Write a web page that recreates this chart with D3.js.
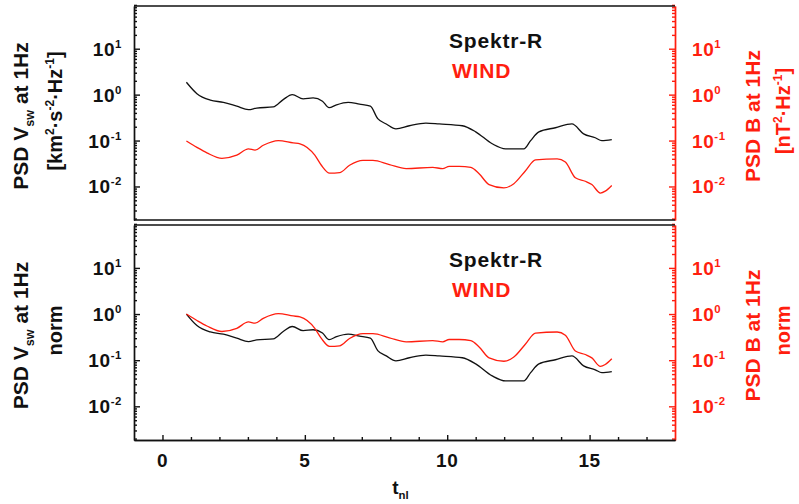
<!DOCTYPE html>
<html>
<head>
<meta charset="utf-8">
<script src="https://cdn.jsdelivr.net/npm/d3@7"></script>
<style>
  body { margin: 0; background: #fff; }
  text { font-family: "Liberation Sans", Arial, sans-serif; font-weight: bold; }
</style>
</head>
<body>
<div id="chart"></div>
<script>
// t_nl values (x) and PSD at 1Hz
var spektrT = [0.84, 1.21, 1.68, 2.14, 2.61, 3.02, 3.31, 3.89, 4.24, 4.56, 4.94, 5.29, 5.62, 5.85, 6.11, 6.52, 6.92, 7.30, 7.56, 7.86, 8.20, 8.67, 9.25, 9.72, 10.53, 11.0, 11.58, 12.05, 12.69, 12.93, 13.22, 13.80, 14.38, 14.79, 15.2, 15.43, 15.78]
var spektrPsd = [1.86, 1.05, 0.76, 0.68, 0.56, 0.47, 0.51, 0.54, 0.78, 1.0, 0.81, 0.85, 0.72, 0.52, 0.60, 0.68, 0.62, 0.56, 0.30, 0.23, 0.18, 0.21, 0.24, 0.23, 0.21, 0.155, 0.085, 0.066, 0.066, 0.10, 0.155, 0.19, 0.23, 0.14, 0.115, 0.10, 0.105]

var windT = [0.84, 1.21, 1.56, 2.09, 2.61, 3.02, 3.25, 3.54, 4.07, 4.59, 4.83, 5.35, 5.58, 5.87, 6.22, 6.57, 7.04, 7.39, 7.97, 8.56, 9.49, 9.84, 10.07, 10.42, 10.83, 11.12, 11.47, 11.99, 12.34, 12.75, 13.1, 13.86, 14.15, 14.5, 14.85, 15.08, 15.38, 15.55, 15.78]
var windPsd = [0.098, 0.071, 0.054, 0.041, 0.048, 0.066, 0.062, 0.079, 0.10, 0.089, 0.085, 0.048, 0.029, 0.0195, 0.020, 0.029, 0.037, 0.037, 0.030, 0.0245, 0.026, 0.0245, 0.0275, 0.0275, 0.026, 0.019, 0.011, 0.0093, 0.0115, 0.022, 0.038, 0.040, 0.034, 0.0155, 0.013, 0.011, 0.0072, 0.0079, 0.0105]

var xMajor = [0, 5, 10, 15]
var xMinor = [1, 2, 3, 4, 6, 7, 8, 9, 11, 12, 13, 14, 16, 17]
var yMajor = [0.01, 0.1, 1, 10]
var yExp = ["-2", "-1", "0", "1"]

var width = 799, height = 504,
    left = 134, right = 675,
    red = "#ff1e0f", ink = "#111"

var svg = d3.select("#chart").append("svg")
    .attr("width", width)
    .attr("height", height)

var x = d3.scaleLinear().domain([-1, 18]).range([left, right])

// minor log ticks 2..9 in every decade
var yMinor = []
d3.range(-3, 2).forEach(function(n) {
  d3.range(2, 10).forEach(function(k) { yMinor.push(k * Math.pow(10, n)) })
})

function rich(t, parts, size) {
  var off = 0
  parts.forEach(function(p) {
    var target = p[1] == "sup" ? -0.42 * size : p[1] == "sub" ? 0.28 * size : 0
    t.append("tspan")
      .attr("dy", target - off)
      .attr("font-size", p[1] == "n" ? size : size * 0.6)
      .text(p[0])
    off = target
  })
}

var panels = [
  {top: 6, bottom: 220, norm: false,
   lt2: [["[km", "n"], ["2", "sup"], ["·s", "n"], ["-2", "sup"], ["·Hz", "n"], ["-1", "sup"], ["]", "n"]],
   rt2: [["[nT", "n"], ["2", "sup"], ["·Hz", "n"], ["-1", "sup"], ["]", "n"]]},
  {top: 225, bottom: 440, norm: true,
   lt2: [["norm", "n"]],
   rt2: [["norm", "n"]]}
]

panels.forEach(function(p) {
  var y = d3.scaleLog()
    .domain([Math.pow(10, -2.73), Math.pow(10, 1.93)])
    .range([p.bottom, p.top])

  var g = svg.append("g")

  var s0 = spektrPsd[0], w0 = windPsd[0]
  var sData = spektrT.map(function(t, i) { return [t, p.norm ? spektrPsd[i] / s0 : spektrPsd[i]] })
  var wData = windT.map(function(t, i) { return [t, p.norm ? windPsd[i] / w0 : windPsd[i]] })

  var line = d3.line()
    .x(function(d) { return x(d[0]) })
    .y(function(d) { return y(d[1]) })
    .curve(d3.curveMonotoneX)

  g.append("path").datum(sData)
    .attr("fill", "none").attr("stroke", ink).attr("stroke-width", 1.3)
    .attr("d", line)
  g.append("path").datum(wData)
    .attr("fill", "none").attr("stroke", red).attr("stroke-width", 1.3)
    .attr("d", line)

  // left axis, ticks inward
  var la = g.append("g").attr("transform", "translate(" + left + ",0)")
  la.call(d3.axisRight(y).tickValues(yMinor).tickSize(3).tickSizeOuter(0).tickFormat(""))
  la.append("g").call(d3.axisRight(y).tickValues(yMajor).tickSize(6).tickSizeOuter(0).tickFormat(""))
  la.selectAll("path,line").attr("stroke", ink).attr("stroke-width", 1.4)

  // right axis, red
  var ra = g.append("g").attr("transform", "translate(" + right + ",0)")
  ra.call(d3.axisLeft(y).tickValues(yMinor).tickSize(3).tickSizeOuter(0).tickFormat(""))
  ra.append("g").call(d3.axisLeft(y).tickValues(yMajor).tickSize(6).tickSizeOuter(0).tickFormat(""))
  ra.selectAll("path,line").attr("stroke", red).attr("stroke-width", 1.4)

  // top border
  g.append("line")
    .attr("x1", left).attr("x2", right)
    .attr("y1", p.top).attr("y2", p.top)
    .attr("stroke", ink).attr("stroke-width", 1.5)

  if (p.norm) {
    var ba = g.append("g").attr("transform", "translate(0," + p.bottom + ")")
    ba.call(d3.axisTop(x).tickValues(xMinor).tickSize(3).tickSizeOuter(0).tickFormat(""))
    ba.append("g").call(d3.axisTop(x).tickValues(xMajor).tickSize(5).tickSizeOuter(0).tickFormat(""))
    ba.selectAll("path,line").attr("stroke", ink).attr("stroke-width", 1.4)
    ba.selectAll(".xlab").data(xMajor).enter().append("text")
      .attr("class", "xlab")
      .attr("x", function(d) { return x(d) })
      .attr("y", 27)
      .attr("text-anchor", "middle")
      .attr("font-size", 19)
      .attr("letter-spacing", 0.6)
      .attr("fill", ink)
      .text(function(d) { return d })
  } else {
    g.append("line")
      .attr("x1", left).attr("x2", right)
      .attr("y1", p.bottom).attr("y2", p.bottom)
      .attr("stroke", ink).attr("stroke-width", 1.5)
  }

  // tick labels 10^n
  yMajor.forEach(function(v, i) {
    var tl = g.append("text")
      .attr("x", left - 12).attr("y", y(v) + 7)
      .attr("text-anchor", "end").attr("fill", ink)
      .attr("letter-spacing", 0.6)
    rich(tl, [["10", "n"], [yExp[i], "sup"]], 19)
    var tr = g.append("text")
      .attr("x", right + 17).attr("y", y(v) + 7)
      .attr("text-anchor", "start").attr("fill", red)
      .attr("letter-spacing", 0.6)
    rich(tr, [["10", "n"], [yExp[i], "sup"]], 19)
  })

  var mid = (p.top + p.bottom) / 2

  var t1 = g.append("text")
    .attr("transform", "translate(28," + (mid + 3) + ") rotate(-90)")
    .attr("text-anchor", "middle").attr("fill", ink)
  rich(t1, [["PSD V", "n"], ["sw", "sub"], [" at 1Hz", "n"]], 21)

  var t2 = g.append("text")
    .attr("transform", "translate(62," + (mid - 2) + ") rotate(-90)")
    .attr("text-anchor", "middle").attr("fill", ink)
  rich(t2, p.lt2, 20)

  var t3 = g.append("text")
    .attr("transform", "translate(760," + (mid + 3) + ") rotate(-90)")
    .attr("text-anchor", "middle").attr("fill", red)
  rich(t3, [["PSD B at 1Hz", "n"]], 21)

  var t4 = g.append("text")
    .attr("transform", "translate(790," + (mid - 2) + ") rotate(-90)")
    .attr("text-anchor", "middle").attr("fill", red)
  rich(t4, p.rt2, 20)

  // legend
  g.append("text").attr("x", 449).attr("y", p.top + 42)
    .attr("font-size", 21).attr("letter-spacing", 0.8).attr("fill", ink).text("Spektr-R")
  g.append("text").attr("x", 452).attr("y", p.top + 72)
    .attr("font-size", 21).attr("letter-spacing", 0.8).attr("fill", red).text("WIND")
})

var xt = svg.append("text")
  .attr("x", x(8.5) - 4).attr("y", 494)
  .attr("text-anchor", "middle").attr("fill", ink)
rich(xt, [["t", "n"], ["nl", "sub"]], 19)
</script>
</body>
</html>
